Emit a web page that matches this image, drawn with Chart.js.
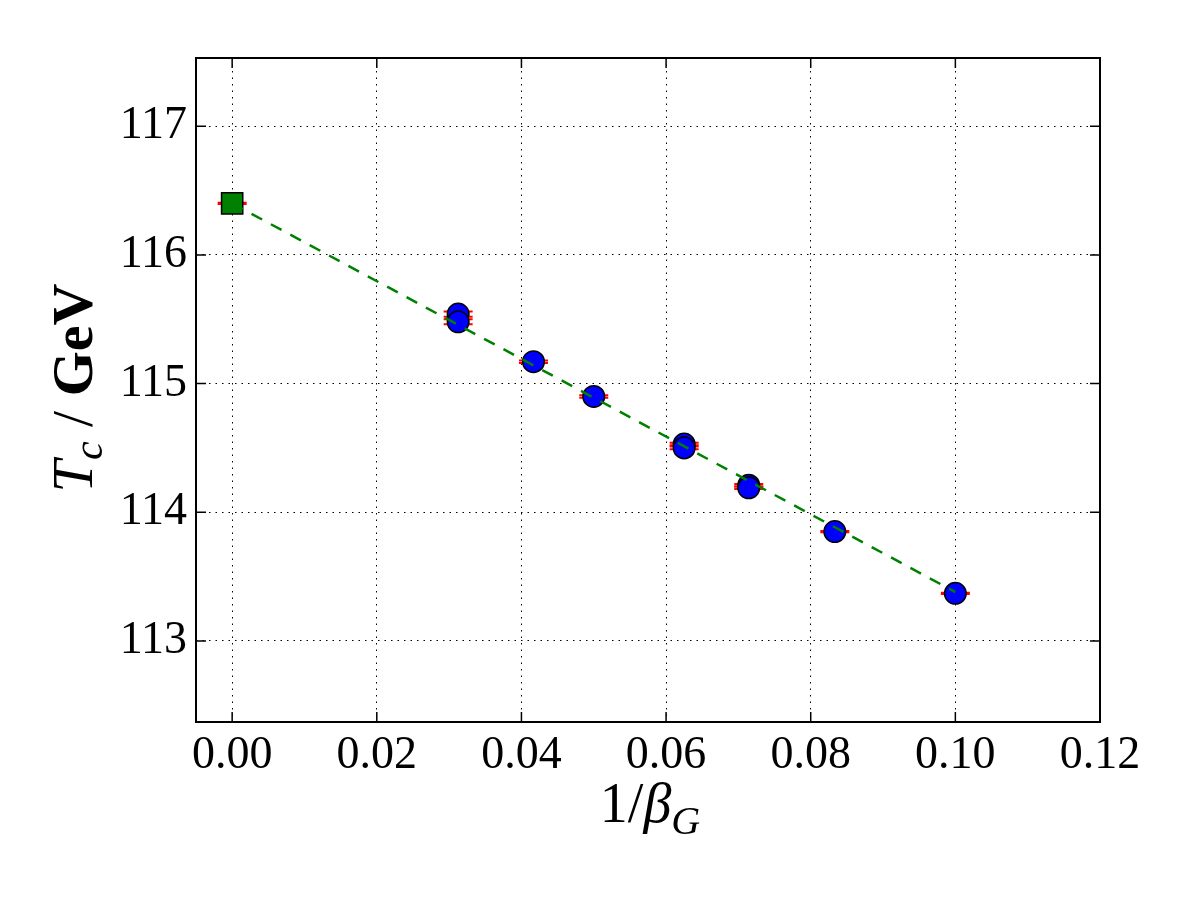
<!DOCTYPE html>
<html>
<head>
<meta charset="utf-8">
<script src="https://cdn.jsdelivr.net/npm/chart.js@4/dist/chart.umd.min.js"></script>
<style>
  html, body { margin: 0; padding: 0; background: #fff; }
  #wrap { width: 1200px; height: 900px; }
</style>
</head>
<body>
<div id="wrap"><canvas id="myChart" width="1200" height="900"></canvas></div>
<script>
// valori
const invBeta = [0.03125, 0.03125, 0.041667, 0.05, 0.0625, 0.0625, 0.071429, 0.071429, 0.083333, 0.1];
const tc = [115.54, 115.48, 115.17, 114.90, 114.53, 114.50, 114.21, 114.19, 113.85, 113.37];
const tcErr = [0.02, 0.02, 0.01, 0.01, 0.01, 0.01, 0.01, 0.01, 0.005, 0.005];
const extrapX = [0];
const extrapY = [116.40];
const extrapErr = [0.005];
const fitX = [0, 0.1];
const fitY = [116.40, 113.38];
const xTicks = [0, 0.02, 0.04, 0.06, 0.08, 0.10, 0.12];
const yTicks = [113, 114, 115, 116, 117];

const serif = "'Liberation Serif', 'DejaVu Serif', serif";

function punti(xs, ys) {
	return xs.map((x, i) => ({ x: x, y: ys[i] }));
}

const overlay = {
	id: "overlay",
	beforeDatasetsDraw(chart) {
		const ctx = chart.ctx;
		const sx = chart.scales.x, sy = chart.scales.y;
		ctx.save();
		ctx.strokeStyle = "#ff0000";
		ctx.lineWidth = 2;
		const barre = (xs, ys, errs) => {
			xs.forEach((x, i) => {
				const px = sx.getPixelForValue(x);
				const top = sy.getPixelForValue(ys[i] + errs[i]);
				const bot = sy.getPixelForValue(ys[i] - errs[i]);
				ctx.beginPath();
				ctx.moveTo(px, top); ctx.lineTo(px, bot);
				[top, bot].forEach(py => { ctx.moveTo(px - 14.5, py); ctx.lineTo(px + 14.5, py); });
				ctx.stroke();
			});
		};
		barre(invBeta, tc, tcErr);
		barre(extrapX, extrapY, extrapErr);
		ctx.restore();
	},
	afterDraw(chart) {
		const ctx = chart.ctx;
		const a = chart.chartArea;
		const sx = chart.scales.x, sy = chart.scales.y;
		ctx.save();
		// tacche interne
		ctx.strokeStyle = "#000";
		ctx.lineWidth = 1.5;
		ctx.beginPath();
		xTicks.forEach(v => {
			const px = sx.getPixelForValue(v);
			ctx.moveTo(px, a.bottom); ctx.lineTo(px, a.bottom - 10);
			ctx.moveTo(px, a.top); ctx.lineTo(px, a.top + 10);
		});
		yTicks.forEach(v => {
			const py = sy.getPixelForValue(v);
			ctx.moveTo(a.left, py); ctx.lineTo(a.left + 10, py);
			ctx.moveTo(a.right, py); ctx.lineTo(a.right - 10, py);
		});
		ctx.stroke();
		// cornice
		ctx.lineWidth = 2;
		ctx.strokeRect(a.left, a.top, a.right - a.left, a.bottom - a.top);

		// titolo asse x: 1/beta_G
		ctx.fillStyle = "#000";
		ctx.textBaseline = "alphabetic";
		ctx.textAlign = "left";
		const fx = "56px " + serif, fxi = "italic 56px " + serif, fxs = "italic 40px " + serif;
		ctx.font = fx; const w1 = ctx.measureText("1/").width;
		ctx.font = fxi; const w2 = ctx.measureText("\u03b2").width;
		ctx.font = fxs; const w3 = ctx.measureText("G").width;
		let x0 = 650 - (w1 + w2 + w3) / 2;
		const by = 822;
		ctx.font = fx; ctx.fillText("1/", x0, by); x0 += w1;
		ctx.font = fxi; ctx.fillText("\u03b2", x0, by); x0 += w2;
		ctx.font = fxs; ctx.fillText("G", x0, by + 12);

		// titolo asse y: T_c / GeV
		ctx.translate(92, 388);
		ctx.rotate(-Math.PI / 2);
		const fT = "italic 58px " + serif, fc = "italic 42px " + serif, fs = "58px " + serif, fb = "bold 58px " + serif;
		ctx.font = fT; const a1 = ctx.measureText("T").width;
		ctx.font = fc; const a2 = ctx.measureText("c").width;
		ctx.font = fs; const a3 = ctx.measureText(" / ").width;
		ctx.font = fb; const a4 = ctx.measureText("GeV").width;
		let t0 = -(a1 + a2 + a3 + a4) / 2;
		ctx.font = fT; ctx.fillText("T", t0, 0); t0 += a1;
		ctx.font = fc; ctx.fillText("c", t0, 10); t0 += a2;
		ctx.font = fs; ctx.fillText(" / ", t0, 0); t0 += a3;
		ctx.font = fb; ctx.fillText("GeV", t0, 0);
		ctx.restore();
	}
};

function generaGrafico() {
	const ctx = document.getElementById("myChart").getContext("2d");
	new Chart(ctx, {
		type: "scatter",
		data: {
			datasets: [
				{
					type: "line",
					data: punti(fitX, fitY),
					borderColor: "#008000",
					borderWidth: 2.5,
					borderDash: [12, 10],
					pointRadius: 0,
					fill: false,
					order: 0,
				},
				{
					data: punti(invBeta, tc),
					backgroundColor: "#0000ff",
					borderColor: "#000000",
					pointRadius: 10.8,
					pointBorderWidth: 1.5,
					order: 1,
				},
				{
					data: punti(extrapX, extrapY),
					backgroundColor: "#008000",
					borderColor: "#000000",
					pointStyle: "rect",
					pointRadius: 15,
					pointBorderWidth: 1.5,
					order: 2,
				},
			],
		},
		options: {
			responsive: false,
			animation: false,
			layout: { padding: { top: 58, right: 100, left: 0, bottom: 0 } },
			plugins: { legend: { display: false }, tooltip: { enabled: false } },
			scales: {
				x: {
					type: "linear",
					min: -0.005,
					max: 0.12,
					afterFit: s => { s.height = 178; },
					border: { display: false, dash: [1.5, 5] },
					grid: { color: "#000", lineWidth: 1, drawTicks: false },
					ticks: {
						stepSize: 0.02,
						includeBounds: false,
						padding: 6,
						color: "#000",
						font: { family: serif, size: 46 },
						callback: v => v.toFixed(2),
					},
				},
				y: {
					min: 112.37,
					max: 117.53,
					afterFit: s => { s.width = 196; },
					border: { display: false, dash: [1.5, 5] },
					grid: { color: "#000", lineWidth: 1, drawTicks: false },
					ticks: {
						stepSize: 1,
						includeBounds: false,
						padding: 9,
						color: "#000",
						font: { family: serif, size: 46 },
						callback: v => String(v),
					},
				},
			},
		},
		plugins: [overlay],
	});
}
generaGrafico();
</script>
</body>
</html>
